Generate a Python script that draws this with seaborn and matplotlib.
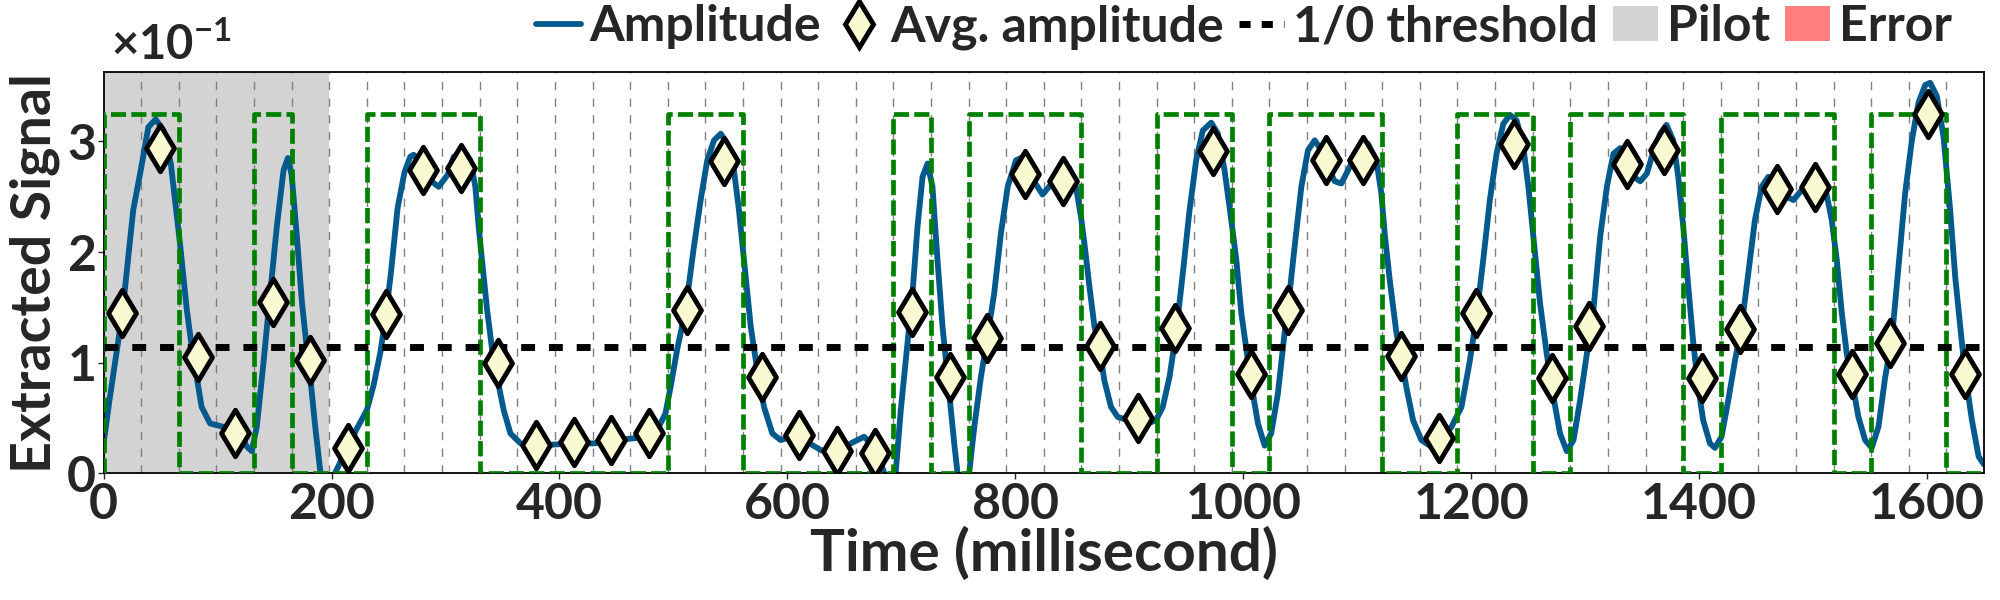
import numpy as np
import pandas as pd
import matplotlib
matplotlib.use("Agg")
import matplotlib.pyplot as plt
from matplotlib.lines import Line2D
from matplotlib.patches import Patch
import seaborn as sns

# timing of the frame
BIT_MS = 33
PILOT_BITS = 6
X_MAX = 1650

# values are read in units of 1e-1 (the axis offset)
SCALE = 1e-1
THRESHOLD = 1.145
BIT_LEVEL = 3.25

# transmitted bits (green step), one per 33 ms slot
bits = [1, 1, 0, 0, 1, 0, 0, 1, 1, 1,
        0, 0, 0, 0, 0, 1, 1, 0, 0, 0,
        0, 1, 0, 1, 1, 1, 0, 0, 1, 1,
        0, 1, 1, 1, 0, 0, 1, 1, 0, 1,
        1, 1, 0, 1, 1, 1, 0, 1, 1, 0]

# averaged amplitude per bit slot (diamonds)
avg_amplitude = [1.45, 2.94, 1.05, 0.36, 1.55, 1.02, 0.23, 1.44, 2.74, 2.76,
                 1.00, 0.26, 0.28, 0.30, 0.36, 1.48, 2.82, 0.87, 0.35, 0.20,
                 0.18, 1.46, 0.87, 1.22, 2.71, 2.64, 1.15, 0.50, 1.31, 2.91,
                 0.90, 1.48, 2.83, 2.83, 1.06, 0.32, 1.45, 2.98, 0.86, 1.33,
                 2.80, 2.92, 0.86, 1.30, 2.57, 2.59, 0.90, 1.18, 3.25, 0.90]

# extracted amplitude trace
time_ms = [0, 5, 10, 16.5, 26, 32.6, 39.3, 45.7, 52.5, 59, 67, 73, 77.4, 81.7, 86,
           93.5, 105, 113, 120, 125.7, 130, 134.4, 140.3, 146.2, 152, 157.9, 161.7,
           165, 169.6, 174, 178.4, 182, 185.7, 190, 196, 203, 210, 214.5, 222, 231,
           237, 243, 247.5, 252, 258, 264, 269, 272, 277, 285, 294, 302, 307.2, 316,
           321.8, 326.2, 329.1, 332, 336.5, 340.9, 345.8, 351.1, 357, 365.8, 379,
           395, 412.6, 430.2, 450.6, 468.2, 480, 485.7, 493, 497.5, 503.3, 510.7,
           518, 523.9, 529.7, 535.6, 541.5, 547.3, 553.1, 557.5, 561.9, 567.8,
           573.6, 579.5, 586.8, 594.1, 602.9, 614.6, 629.3, 643.9, 655.6, 667.3,
           676.1, 682, 685, 690, 695, 699.5, 705.4, 709.8, 714.2, 718.6, 723,
           727.3, 731.7, 736.1, 742, 746.4, 749.3, 754, 759.5, 764, 769.8, 775.7,
           781.5, 787.4, 793.3, 800.6, 805, 813.8, 823.9, 832, 841.5, 847.4, 853.2,
           857.6, 860.6, 865, 869.4, 873.7, 878.1, 884, 889.8, 898.6, 907.4, 916.2,
           923.5, 929.4, 935.3, 941.1, 947, 952.9, 958.7, 964.6, 971.9, 977.8,
           983.6, 989.5, 993.9, 998.3, 1004.1, 1008.5, 1012.9, 1018.8, 1024.5,
           1030.4, 1036.3, 1040.7, 1045.1, 1051, 1056.8, 1062.7, 1068.5, 1074.4,
           1080.2, 1086.1, 1092, 1096.3, 1102.2, 1109.4, 1116.8, 1121.2, 1124.1,
           1128.5, 1134.4, 1138.7, 1143.1, 1149, 1156.3, 1165.1, 1173.9, 1182.7,
           1191.5, 1198.9, 1204.7, 1210.6, 1216.4, 1222.3, 1228.2, 1234.1, 1239.9,
           1245.8, 1250.2, 1254.6, 1260.4, 1266.3, 1272.2, 1278, 1283.9, 1289.8,
           1295.6, 1301.5, 1307.3, 1313.2, 1319.1, 1324.9, 1330.8, 1336.7, 1342.5,
           1348.4, 1354.2, 1360.1, 1365.9, 1371.4, 1377.3, 1381.7, 1386.1, 1390.5,
           1394.9, 1399.2, 1403.6, 1409.5, 1413.9, 1419.7, 1425.6, 1431.5, 1437.3,
           1443.2, 1449, 1454.9, 1460.7, 1468.1, 1476.9, 1482.7, 1490, 1498.8,
           1504.7, 1510.5, 1516.4, 1520.8, 1525.2, 1529.6, 1534, 1539.8, 1545.7,
           1551.5, 1557.4, 1563.3, 1569.1, 1575, 1580.8, 1586.7, 1592.5, 1598.4,
           1602.8, 1608.6, 1614.5, 1620.3, 1624.7, 1629.1, 1633.5, 1639.4, 1645.3,
           1650]
amplitude = [0.27, 0.65, 1.0, 1.45, 2.38, 2.74, 3.13, 3.2, 3.1, 2.8, 2.08, 1.48, 1.14,
             0.87, 0.6, 0.45, 0.42, 0.41, 0.36, 0.24, 0.2, 0.42, 1.0, 1.63, 2.23, 2.74,
             2.85, 2.7, 2.14, 1.55, 1.12, 0.8, 0.42, 0.03, -0.25, 0.0, 0.15, 0.23, 0.4,
             0.57, 0.8, 1.1, 1.42, 1.8, 2.4, 2.72, 2.86, 2.88, 2.82, 2.66, 2.59, 2.7,
             2.86, 2.92, 2.83, 2.59, 2.23, 1.93, 1.48, 1.12, 0.84, 0.57, 0.36, 0.27,
             0.24, 0.26, 0.27, 0.27, 0.30, 0.32, 0.35, 0.39, 0.54, 0.78, 1.12, 1.48,
             2.05, 2.47, 2.83, 3.01, 3.07, 2.98, 2.74, 2.38, 1.93, 1.33, 0.93, 0.60,
             0.36, 0.30, 0.33, 0.30, 0.21, 0.18, 0.27, 0.33, 0.24, 0.09, 0.0, -0.2,
             0.0, 0.57, 1.18, 1.63, 2.23, 2.68, 2.80, 2.59, 1.93, 1.33, 0.72, 0.27,
             0.0, -0.3, 0.0, 0.42, 0.87, 1.24, 1.63, 2.17, 2.59, 2.83, 2.85, 2.68,
             2.52, 2.62, 2.72, 2.76, 2.59, 2.32, 2.08, 1.69, 1.33, 1.15, 0.84, 0.60,
             0.51, 0.48, 0.48, 0.45, 0.48, 0.60, 0.87, 1.27, 1.81, 2.38, 2.83, 3.10,
             3.17, 3.07, 2.74, 2.29, 1.93, 1.45, 1.02, 0.72, 0.45, 0.25, 0.36, 0.72,
             1.27, 1.63, 2.05, 2.59, 2.92, 3.01, 2.92, 2.77, 2.64, 2.62, 2.74, 2.83,
             2.94, 2.98, 2.83, 2.53, 2.17, 1.75, 1.27, 1.05, 0.78, 0.48, 0.30, 0.24,
             0.30, 0.42, 0.60, 1.02, 1.42, 1.93, 2.47, 2.89, 3.16, 3.24, 3.19, 2.95,
             2.59, 2.14, 1.54, 1.08, 0.69, 0.36, 0.20, 0.30, 0.66, 1.08, 1.48, 2.14,
             2.59, 2.89, 2.94, 2.83, 2.68, 2.64, 2.71, 2.92, 3.07, 3.15, 3.01, 2.68,
             2.23, 1.69, 1.18, 0.78, 0.48, 0.27, 0.23, 0.33, 0.66, 1.02, 1.33, 1.81,
             2.29, 2.59, 2.68, 2.64, 2.50, 2.47, 2.56, 2.70, 2.71, 2.59, 2.29, 1.93,
             1.45, 1.08, 0.84, 0.51, 0.30, 0.23, 0.42, 0.87, 1.21, 1.87, 2.53, 3.01,
             3.35, 3.51, 3.53, 3.41, 3.04, 2.38, 1.78, 1.33, 0.90, 0.48, 0.15, 0.08]

AMP_COLOR = "#045a8d"
DIAMOND_FACE = "#fafad2"
PILOT_COLOR = "#d3d3d3"
ERROR_COLOR = "#ff7f7f"
TRUTH_COLOR = "#008000"

sns.set_theme(style="ticks")
plt.rcParams["font.family"] = ["Lato", "DejaVu Sans"]
plt.rcParams["font.weight"] = "bold"
plt.rcParams["axes.labelweight"] = "bold"
plt.rcParams["mathtext.fontset"] = "custom"
plt.rcParams["mathtext.rm"] = "Lato:bold"
plt.rcParams["mathtext.bf"] = "Lato:bold"
plt.rcParams["mathtext.it"] = "Lato:bold"

trace = pd.DataFrame({"t": time_ms, "amp": np.array(amplitude) * SCALE})
n_bits = len(bits)
slots = pd.DataFrame({"center": np.arange(n_bits) * BIT_MS + BIT_MS / 2,
                      "avg": np.array(avg_amplitude) * SCALE})
edges = np.arange(n_bits + 1) * BIT_MS
step_x = np.concatenate([[0], edges])
step_y = np.concatenate([[0], bits, [bits[-1]]]) * BIT_LEVEL * SCALE

fig = plt.figure(figsize=(20, 6), dpi=100)
ax = fig.add_axes([0.0518, 0.2112, 0.9402, 0.6683])

ax.axvspan(0, PILOT_BITS * BIT_MS, color=PILOT_COLOR, lw=0, zorder=0)
for k in range(1, n_bits):
    ax.axvline(k * BIT_MS, color="#808080", lw=1, ls=(0, (6, 6)), zorder=1)

ax.step(step_x, step_y, where="post", color=TRUTH_COLOR, linewidth=3.4,
        ls=(0, (3.2, 1.1)), zorder=3)
sns.lineplot(data=trace, x="t", y="amp", ax=ax, color=AMP_COLOR, linewidth=4.2,
             sort=False, estimator=None, zorder=2)
ax.axhline(THRESHOLD * SCALE, color="black", linewidth=5, ls=(0, (2.0, 2.0)), zorder=4)
sns.scatterplot(data=slots, x="center", y="avg", ax=ax, marker="d", s=560,
                color=DIAMOND_FACE, edgecolor="black", linewidth=3.5, zorder=5)

ax.set_xlim(0, X_MAX)
ax.set_ylim(0, 0.3625)
ax.set_xticks([0, 200, 400, 600, 800, 1000, 1200, 1400, 1600])
ax.set_yticks([0, 0.1, 0.2, 0.3])
ax.ticklabel_format(axis="y", style="sci", scilimits=(-1, -1), useMathText=True)
# offset label drawn by hand so it keeps the bold weight
ax.yaxis.get_offset_text().set_visible(False)
ax.text(0.004, 1.012, r"×10$^{\mathbf{-1}}$", transform=ax.transAxes, fontsize=34,
        fontweight="bold", ha="left", va="bottom")
ax.tick_params(axis="both", labelsize=36, length=4, width=1, pad=2, direction="out")
for lab in ax.get_xticklabels() + ax.get_yticklabels():
    lab.set_fontweight("bold")
for sp in ax.spines.values():
    sp.set_color("black")
    sp.set_linewidth(1.3)

ax.set_xlabel("Time (millisecond)", fontsize=42, fontweight="bold", labelpad=0)
ax.set_ylabel("Extracted Signal", fontsize=40, fontweight="bold", labelpad=4)

handles = [
    Line2D([], [], color=AMP_COLOR, linewidth=4.2),
    Line2D([], [], marker="d", ls="none", ms=23.5, mfc=DIAMOND_FACE, mec="black", mew=3.5),
    Line2D([], [], color="black", linewidth=5, ls=(0, (1.6, 1.6))),
    Patch(facecolor=PILOT_COLOR, edgecolor="none"),
    Patch(facecolor=ERROR_COLOR, edgecolor="none"),
]
labels = ["Amplitude", "Avg. amplitude", "1/0 threshold", "Pilot", "Error"]
fig.legend(handles, labels, loc="center right", bbox_to_anchor=(0.976, 0.955),
           ncol=5, frameon=False, prop={"size": 36, "weight": "bold"},
           handlelength=0.9, handletextpad=0.18, columnspacing=0.3,
           borderpad=0, borderaxespad=0)

fig.savefig("out.png", dpi=100)
